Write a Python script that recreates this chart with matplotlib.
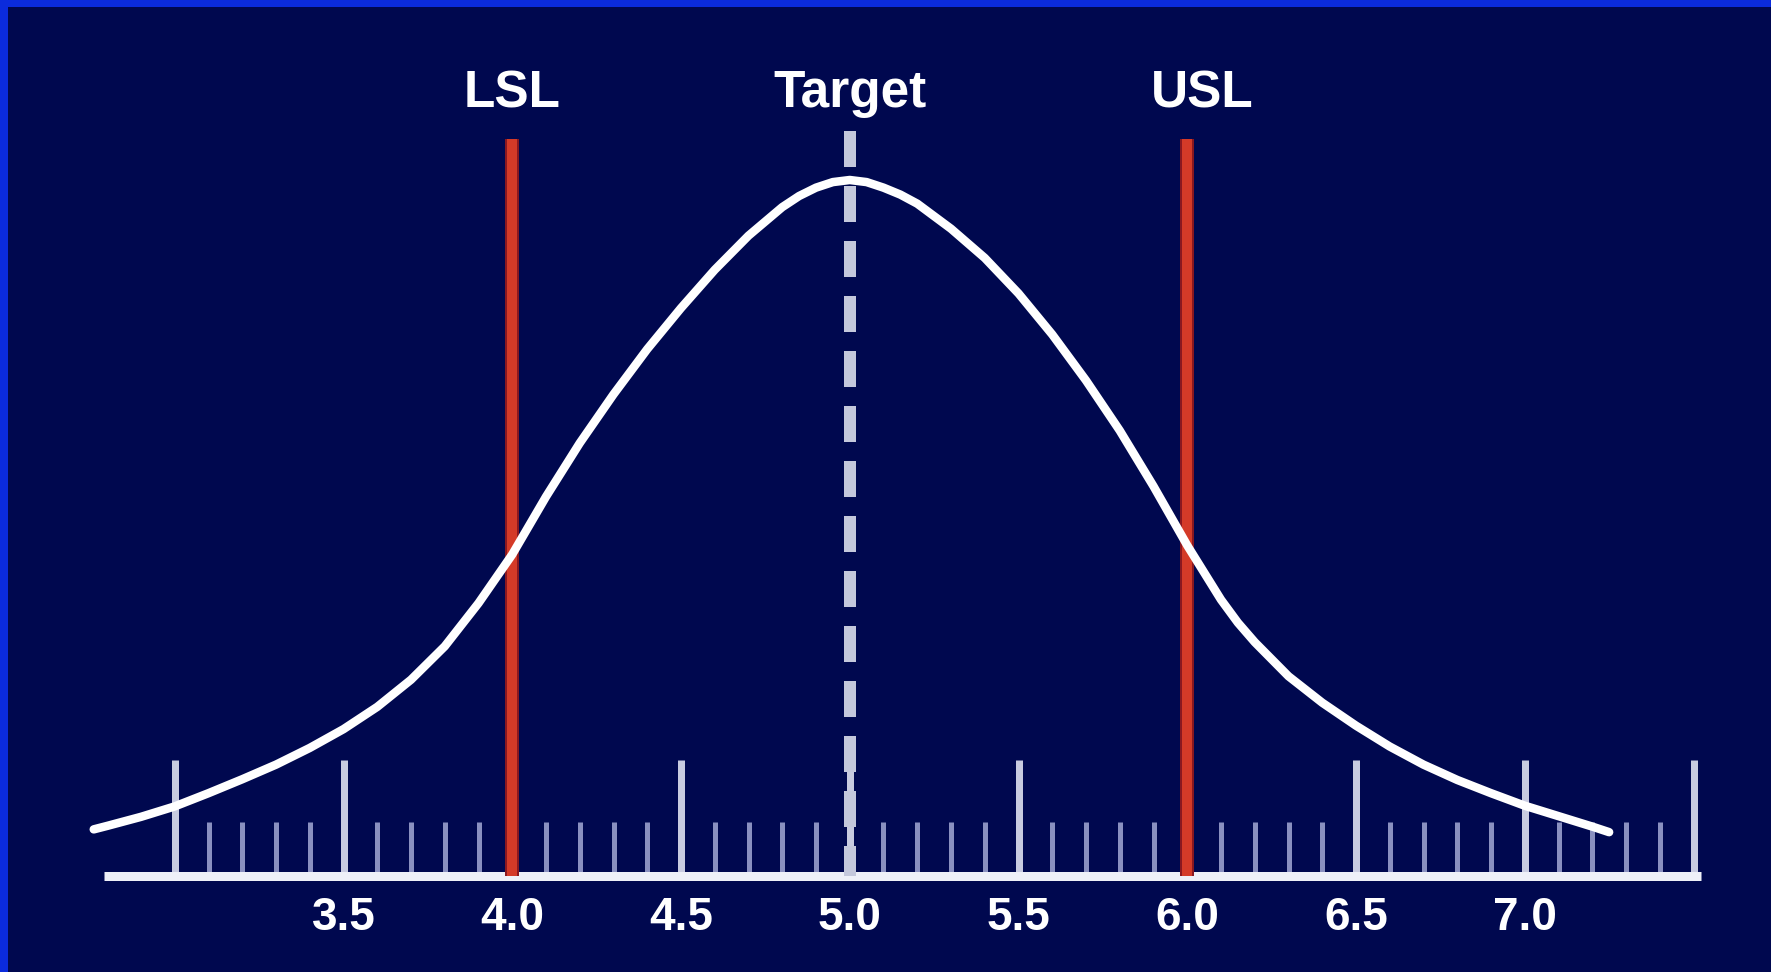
import numpy as np
import matplotlib
matplotlib.use("Agg")
import matplotlib.pyplot as plt
from matplotlib.patches import Rectangle

# Curve: x position and relative height (peak = 1)
curve_x = [2.76, 2.8, 2.9, 3.0, 3.1, 3.2, 3.3, 3.4, 3.5, 3.6, 3.7, 3.8, 3.9,
           4.0, 4.1, 4.2, 4.3, 4.4, 4.5, 4.6, 4.7, 4.8, 4.85, 4.9, 4.95,
           5.0, 5.05, 5.1, 5.15, 5.2, 5.3, 5.4, 5.5, 5.6, 5.7, 5.8, 5.9,
           6.0, 6.1, 6.15, 6.2, 6.3, 6.4, 6.5, 6.6, 6.7, 6.8, 6.9,
           7.0, 7.1, 7.2, 7.25]
curve_y = [0.067, 0.072, 0.085, 0.100, 0.119, 0.139, 0.160, 0.184, 0.211, 0.243, 0.282, 0.330, 0.392,
           0.462, 0.545, 0.622, 0.692, 0.757, 0.816, 0.871, 0.920, 0.961, 0.977, 0.989, 0.997,
           1.000, 0.997, 0.989, 0.979, 0.966, 0.930, 0.888, 0.837, 0.778, 0.712, 0.640, 0.560,
           0.475, 0.397, 0.364, 0.336, 0.287, 0.249, 0.216, 0.186, 0.160, 0.138, 0.119,
           0.101, 0.086, 0.071, 0.063]

# Spec limits
spec_names = ["LSL", "Target", "USL"]
spec_values = [4.0, 5.0, 6.0]

# Axis ticks
major_ticks = [3.0, 3.5, 4.0, 4.5, 5.0, 5.5, 6.0, 6.5, 7.0, 7.5]
tick_labels = ["", "3.5", "4.0", "4.5", "5.0", "5.5", "6.0", "6.5", "7.0", ""]
minor_ticks = [round(3.0 + 0.1 * i, 1) for i in range(1, 45) if i % 5 != 0]

# Layout (pixel scale of the reference)
W, H = 1771, 972
X5_PX, PX_PER_X = 849.75, 337.5
AXIS_PY, PX_PER_Y = 876, 696
PT = 0.72  # points per pixel at dpi 100

BG = "#00084f"
BORDER = "#0b2bdc"
FONT = ["Liberation Sans", "DejaVu Sans"]

fig = plt.figure(figsize=(W / 100, H / 100), dpi=100, facecolor=BG)
ax = fig.add_axes([0, 0, 1, 1])
ax.set_facecolor(BG)
ax.axis("off")
ax.set_xlim(5 - X5_PX / PX_PER_X, 5 + (W - X5_PX) / PX_PER_X)
ax.set_ylim(-(H - AXIS_PY) / PX_PER_Y, AXIS_PY / PX_PER_Y)


def py(pix):
    # pixel row -> data y
    return (AXIS_PY - pix) / PX_PER_Y


# blue border on top and left
fig.add_artist(Rectangle((0, 1 - 7 / H), 1, 7 / H, transform=fig.transFigure,
                         color=BORDER, lw=0))
fig.add_artist(Rectangle((0, 0), 8 / W, 1, transform=fig.transFigure,
                         color=BORDER, lw=0))

# ticks
ax.vlines(minor_ticks, 0, py(822), color="#8a90c0", lw=5 * PT, zorder=2)
ax.vlines(major_ticks, 0, py(760), color="#c8cbe0", lw=7 * PT, zorder=2)

# axis line
ax.plot([2.79, 7.522], [0, 0], color="#eef0f8", lw=9 * PT,
        solid_capstyle="butt", zorder=2.5)

# tick labels
for x, lab in zip(major_ticks, tick_labels):
    if lab:
        ax.text(x, py(930), lab, ha="center", va="baseline", color="white",
                fontsize=33, fontweight="bold", family=FONT)

# LSL / USL red lines and dashed target line
for name, val in zip(spec_names, spec_values):
    if name == "Target":
        ax.plot([val, val], [py(131), 0], color="#c4c8dc", lw=12 * PT,
                dashes=(36 / 12, 19 / 12), dash_capstyle="butt", zorder=3)
    else:
        ax.plot([val, val], [py(139), 0], color="#8a1820", lw=14 * PT,
                solid_capstyle="butt", zorder=3)
        ax.plot([val, val], [py(139), 0], color="#d43a28", lw=10 * PT,
                solid_capstyle="butt", zorder=3.1)

# spec labels
label_dx = {"LSL": 0.0, "Target": 0.0, "USL": 0.045}
for name, val in zip(spec_names, spec_values):
    ax.text(val + label_dx[name], py(107), name, ha="center", va="baseline",
            color="white", fontsize=37, fontweight="bold", family=FONT)

# distribution curve
ax.plot(curve_x, curve_y, color="white", lw=8.5 * PT, solid_joinstyle="round",
        solid_capstyle="round", zorder=4)

fig.savefig("out.png", dpi=100, facecolor=BG)
